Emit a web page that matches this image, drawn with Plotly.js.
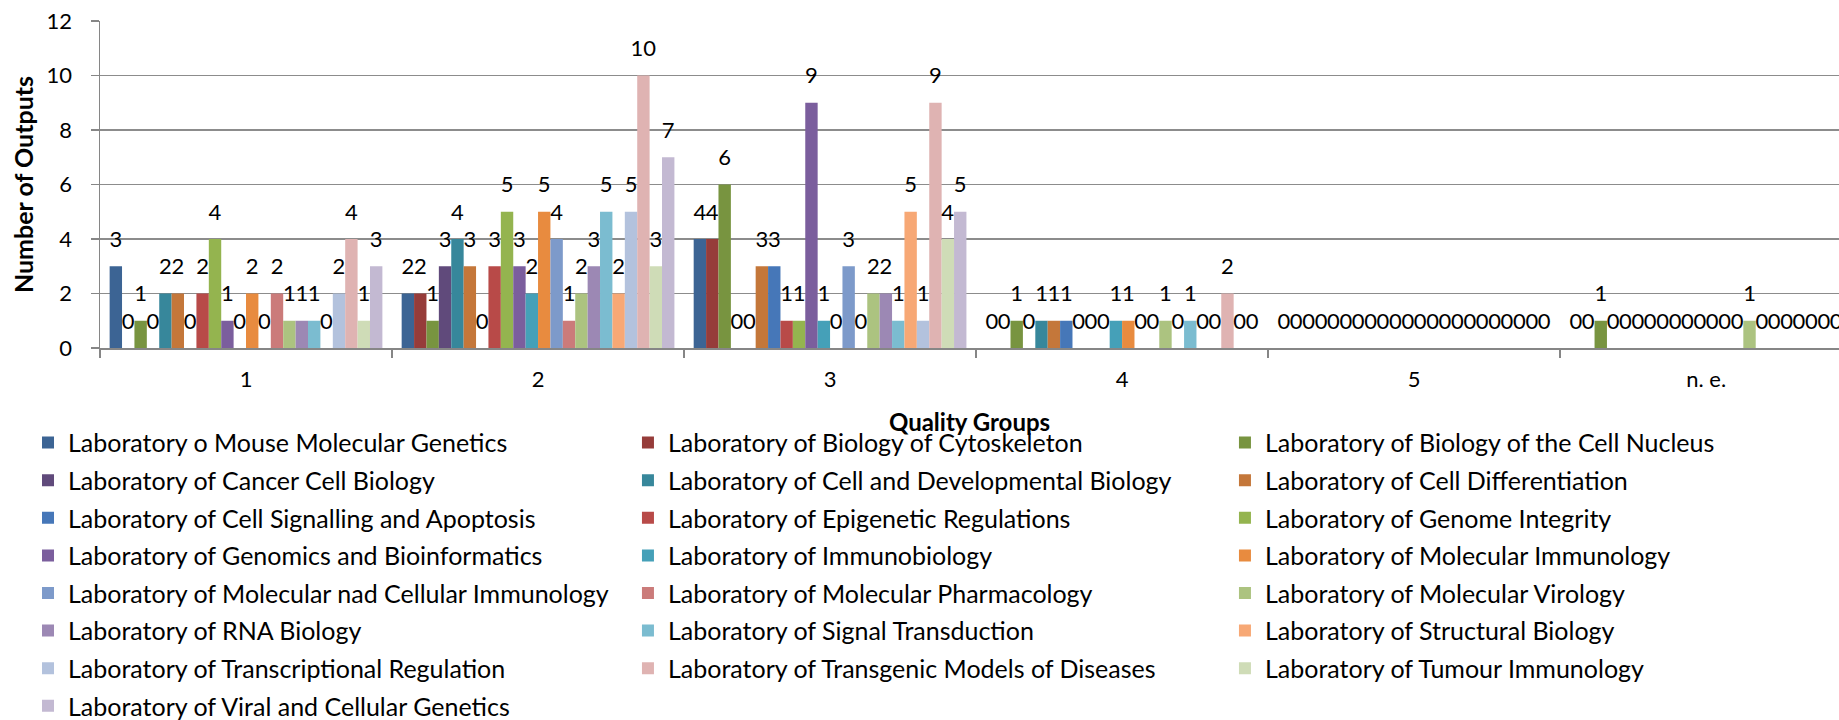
<!DOCTYPE html>
<html>
<head>
<meta charset="utf-8">
<script src="https://cdn.plot.ly/plotly-3.0.1.min.js"></script>
<style>html,body{margin:0;padding:0;overflow:hidden;background:#fff}</style>
</head>
<body>
<div id="chart" style="width:1839px;height:720px"></div>
<script>
// ---- data ----
const categories = ['1', '2', '3', '4', '5', 'n. e.'];

const labNames = [
  'Laboratory o Mouse Molecular Genetics',
  'Laboratory of Biology of Cytoskeleton',
  'Laboratory of Biology of the Cell Nucleus',
  'Laboratory of Cancer Cell Biology',
  'Laboratory of Cell and Developmental Biology',
  'Laboratory of Cell Differentiation',
  'Laboratory of Cell Signalling and Apoptosis',
  'Laboratory of Epigenetic Regulations',
  'Laboratory of Genome Integrity',
  'Laboratory of Genomics and Bioinformatics',
  'Laboratory of Immunobiology',
  'Laboratory of Molecular Immunology',
  'Laboratory of Molecular nad Cellular Immunology',
  'Laboratory of Molecular Pharmacology',
  'Laboratory of Molecular Virology',
  'Laboratory of RNA Biology',
  'Laboratory of Signal Transduction',
  'Laboratory of Structural Biology',
  'Laboratory of Transcriptional Regulation',
  'Laboratory of Transgenic Models of Diseases',
  'Laboratory of Tumour Immunology',
  'Laboratory of Viral and Cellular Genetics'
];

// outputs per quality group: 1, 2, 3, 4, 5, n. e.
const mouseMolecularGenetics   = [3, 2, 4, 0, 0, 0];
const biologyOfCytoskeleton    = [0, 2, 4, 0, 0, 0];
const biologyOfCellNucleus     = [1, 1, 6, 1, 0, 1];
const cancerCellBiology        = [0, 3, 0, 0, 0, 0];
const cellDevelopmentalBiology = [2, 4, 0, 1, 0, 0];
const cellDifferentiation      = [2, 3, 3, 1, 0, 0];
const cellSignallingApoptosis  = [0, 0, 3, 1, 0, 0];
const epigeneticRegulations    = [2, 3, 1, 0, 0, 0];
const genomeIntegrity          = [4, 5, 1, 0, 0, 0];
const genomicsBioinformatics   = [1, 3, 9, 0, 0, 0];
const immunobiology            = [0, 2, 1, 1, 0, 0];
const molecularImmunology      = [2, 5, 0, 1, 0, 0];
const molecularCellularImmun   = [0, 4, 3, 0, 0, 0];
const molecularPharmacology    = [2, 1, 0, 0, 0, 0];
const molecularVirology        = [1, 2, 2, 1, 0, 1];
const rnaBiology               = [1, 3, 2, 0, 0, 0];
const signalTransduction       = [1, 5, 1, 1, 0, 0];
const structuralBiology        = [0, 2, 5, 0, 0, 0];
const transcriptionalRegulation= [2, 5, 1, 0, 0, 0];
const transgenicModels         = [4, 10, 9, 2, 0, 0];
const tumourImmunology         = [1, 3, 4, 0, 0, 0];
const viralCellularGenetics    = [3, 7, 5, 0, 0, 0];

const seriesValues = [
  mouseMolecularGenetics, biologyOfCytoskeleton, biologyOfCellNucleus,
  cancerCellBiology, cellDevelopmentalBiology, cellDifferentiation,
  cellSignallingApoptosis, epigeneticRegulations, genomeIntegrity,
  genomicsBioinformatics, immunobiology, molecularImmunology,
  molecularCellularImmun, molecularPharmacology, molecularVirology,
  rnaBiology, signalTransduction, structuralBiology,
  transcriptionalRegulation, transgenicModels, tumourImmunology,
  viralCellularGenetics
];

// ---- style ----
const colors = [
  '#3C6494', '#963C3A', '#789440', '#604A7B', '#37879B', '#C4773A',
  '#4677B8', '#B84A48', '#94B44F', '#7B5E9D', '#45A0B8', '#E88B3F',
  '#7D9ACA', '#CB7B7A', '#ACC380', '#9C88B4', '#7BBCD0', '#F7A875',
  '#B3C2DD', '#DFB3B2', '#CFDCB7', '#C3B9D2'
];
const legendIds = ['legend', 'legend2', 'legend3'];
const FONT = 'Lato, "Open Sans", sans-serif';

const traces = labNames.map((name, i) => ({
  type: 'bar',
  name: name,
  x: categories,
  y: seriesValues[i],
  marker: {color: colors[i], line: {width: 0}},
  texttemplate: '<span style="font-size:22px">%{y}</span><br>&nbsp;',
  textposition: 'outside',
  textangle: 0,
  constraintext: 'none',
  cliponaxis: false,
  textfont: {family: FONT, size: 11, color: '#000'},
  legend: legendIds[i % 3],
  legendgroup: 'g' + i,
  hoverinfo: 'x+y+name'
}));

const legendBase = {
  xanchor: 'left', yanchor: 'top', orientation: 'v',
  font: {family: FONT, size: 25, color: '#000'},
  tracegroupgap: 2.1, bgcolor: 'rgba(0,0,0,0)', borderwidth: 0,
  y: -0.2198
};

const axisGrey = '#868686';

const layout = {
  width: 1839, height: 720,
  margin: {l: 100, r: 0, t: 21, b: 372, pad: 0, autoexpand: false},
  paper_bgcolor: '#ffffff', plot_bgcolor: '#ffffff',
  font: {family: FONT, color: '#000'},
  barmode: 'group', bargap: 0.066, bargroupgap: 0,
  showlegend: true,
  xaxis: {
    type: 'category', range: [-0.5, 5.455], tickson: 'boundaries',
    ticks: 'outside', ticklen: 8, tickwidth: 1.5, tickcolor: axisGrey,
    showline: true, linecolor: axisGrey, linewidth: 2, showgrid: false,
    tickfont: {family: FONT, size: 22, color: '#000'}, ticklabelstandoff: 11,
    title: {text: 'Quality Groups', standoff: 23, font: {family: FONT, size: 24, weight: 'bold', color: '#000'}},
    automargin: false, fixedrange: true
  },
  yaxis: {
    range: [0, 12], tick0: 0, dtick: 2,
    ticks: 'outside', ticklen: 8, tickwidth: 1.5, tickcolor: axisGrey,
    showline: true, linecolor: axisGrey, linewidth: 1.5,
    showgrid: true, gridcolor: '#8c8c8c', gridwidth: 1.5, zeroline: false,
    tickfont: {family: FONT, size: 22, color: '#000'}, ticklabelstandoff: 14,
    title: {text: 'Number of Outputs', standoff: 6, font: {family: FONT, size: 25, weight: 'bold', color: '#000'}},
    automargin: false, fixedrange: true
  },
  legend:  Object.assign({}, legendBase, {x: -0.0414}),
  legend2: Object.assign({}, legendBase, {x: 0.3036}),
  legend3: Object.assign({}, legendBase, {x: 0.6469})
};

Plotly.newPlot('chart', traces, layout, {displayModeBar: false, staticPlot: true});
</script>
</body>
</html>
